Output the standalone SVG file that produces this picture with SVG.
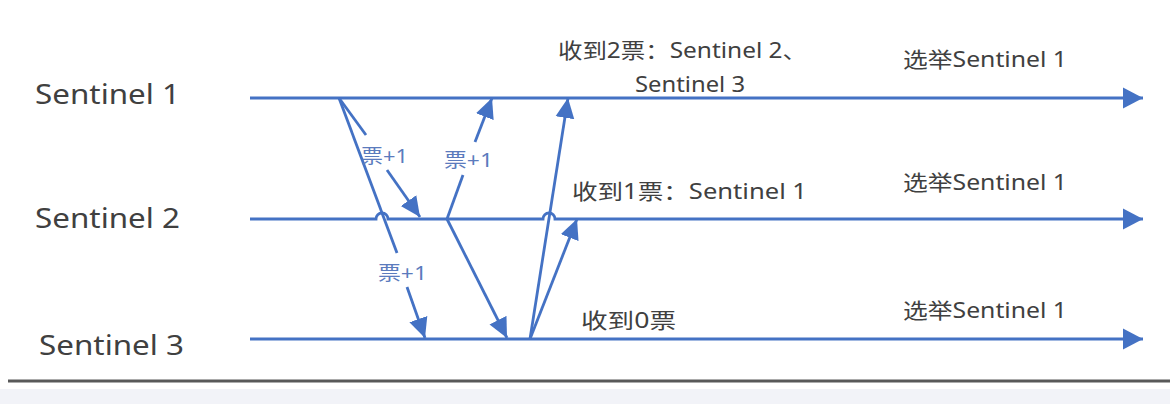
<svg xmlns="http://www.w3.org/2000/svg" width="1170" height="404" viewBox="0 0 1170 404">
<style>
.tl{fill:none;stroke:#4472C4;stroke-width:2.8}
.ar{fill:none;stroke:#4472C4;stroke-width:2.8}
.lbl{font-family:"Noto Sans","Noto Sans CJK SC",sans-serif;fill:#404040}
.big{font-size:28px}
.mid{font-size:21px}
.vote{font-family:"Noto Sans","Noto Sans CJK SC",sans-serif;font-size:19px;fill:#5b7bbd}
</style>
<defs>
<marker id="hend" viewBox="0 -11 21 22" refX="20" refY="0" markerWidth="21" markerHeight="22" markerUnits="userSpaceOnUse" orient="auto">
<path d="M0,-10.5 L20,0 L0,10.5 z" fill="#4472C4"/>
</marker>
<marker id="dend" viewBox="0 -10 21 20" refX="20" refY="0" markerWidth="21" markerHeight="20" markerUnits="userSpaceOnUse" orient="auto">
<path d="M0,-9.5 L20,0 L0,9.5 z" fill="#4472C4"/>
</marker>
</defs>
<rect x="0" y="0" width="1170" height="404" fill="#ffffff"/>
<rect x="0" y="389" width="1170" height="15" fill="#f2f3f8"/>
<line x1="8" y1="381" x2="1170" y2="381" stroke="#595959" stroke-width="3"/>

<g id="sentinel1">
<text class="lbl big" x="35" y="104" textLength="145" lengthAdjust="spacingAndGlyphs">Sentinel 1</text>
<path class="tl" d="M250,98 H1143" marker-end="url(#hend)"/>
<text class="lbl mid" x="558" y="58" textLength="249" lengthAdjust="spacingAndGlyphs">收到2票：Sentinel 2、</text>
<text class="lbl mid" x="635" y="92" textLength="110" lengthAdjust="spacingAndGlyphs">Sentinel 3</text>
<text class="lbl mid" x="903" y="67" textLength="164" lengthAdjust="spacingAndGlyphs">选举Sentinel 1</text>
</g>

<g id="sentinel2">
<text class="lbl big" x="35" y="228" textLength="145" lengthAdjust="spacingAndGlyphs">Sentinel 2</text>
<path class="tl" d="M250,219 H376 A6,6 0 0 1 388,219 H543 A6,6 0 0 1 555,219 H1143" marker-end="url(#hend)"/>
<text class="lbl mid" x="572" y="199" textLength="235" lengthAdjust="spacingAndGlyphs">收到1票：Sentinel 1</text>
<text class="lbl mid" x="903" y="190" textLength="164" lengthAdjust="spacingAndGlyphs">选举Sentinel 1</text>
</g>

<g id="sentinel3">
<text class="lbl big" x="39" y="355" textLength="145" lengthAdjust="spacingAndGlyphs">Sentinel 3</text>
<path class="tl" d="M250,339 H1143" marker-end="url(#hend)"/>
<text class="lbl mid" x="581" y="328" textLength="95" lengthAdjust="spacingAndGlyphs">收到0票</text>
<text class="lbl mid" x="903" y="318" textLength="164" lengthAdjust="spacingAndGlyphs">选举Sentinel 1</text>
</g>

<g id="connectors">
<path class="ar" d="M339,98 L397,253"/>
<path class="ar" d="M407,287 L425,338" marker-end="url(#dend)"/>
<text class="vote" x="378" y="280" textLength="49" lengthAdjust="spacingAndGlyphs">票+1</text>
<path class="ar" d="M339,98 L366,135"/>
<path class="ar" d="M387,170 L420,217" marker-end="url(#dend)"/>
<text class="vote" x="361" y="163" textLength="47" lengthAdjust="spacingAndGlyphs">票+1</text>
<path class="ar" d="M447,219 L463,175"/>
<path class="ar" d="M475,142 L492,98" marker-end="url(#dend)"/>
<text class="vote" x="444" y="167" textLength="49" lengthAdjust="spacingAndGlyphs">票+1</text>
<path class="ar" d="M447,219 L507,338" marker-end="url(#dend)"/>
<path class="ar" d="M530,339 L568,98" marker-end="url(#dend)"/>
<path class="ar" d="M530,339 L577,219" marker-end="url(#dend)"/>
</g>
</svg>
